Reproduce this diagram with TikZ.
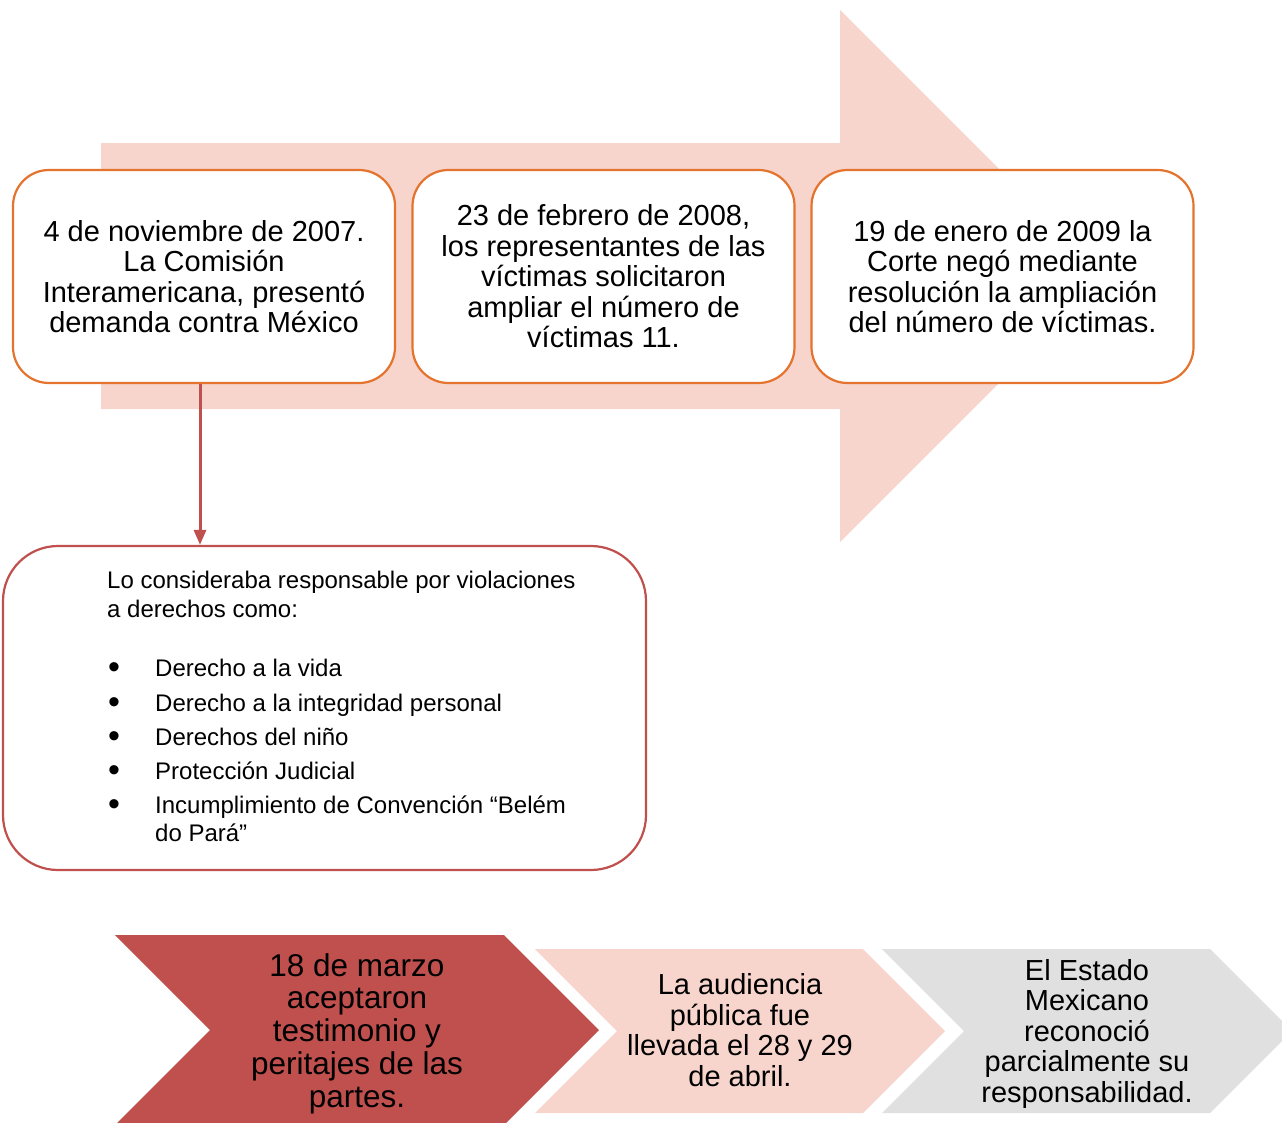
\documentclass[tikz,border=0pt]{standalone}
\usepackage{fontspec}
\setmainfont{Liberation Sans}
\usetikzlibrary{arrows.meta}
\definecolor{pinkbg}{HTML}{F7D5CC}
\definecolor{darkred}{HTML}{C0504D}
\definecolor{orangeb}{HTML}{E4732D}
\definecolor{greybg}{HTML}{E0E0E0}
\begin{document}
\begin{tikzpicture}[x=1pt,y=-1pt,
  eventbox/.style={draw=orangeb, line width=2.2pt, fill=white, rounded corners=36pt,
    minimum width=382pt, minimum height=213pt, inner sep=0pt, align=center,
    font=\fontsize{29}{30.5}\selectfont},
  rightsbox/.style={draw=darkred, line width=2.2pt, fill=white, rounded corners=55pt,
    minimum width=643pt, minimum height=324pt, inner sep=0pt},
  listtext/.style={anchor=base west, inner sep=0pt, font=\fontsize{24}{28}\selectfont},
  bullettext/.style={anchor=base, inner sep=0pt, font=\fontsize{34}{36}\selectfont},
  chevtext/.style={align=center, inner sep=0pt, font=\fontsize{29}{30.5}\selectfont},
  bigchevtext/.style={align=center, inner sep=0pt, font=\fontsize{31.5}{32.7}\selectfont},
  link/.style={draw=darkred, line width=3pt, -{Triangle[length=15pt,width=12pt]}}
]
\useasboundingbox (0,0) rectangle (1282,1122);
\clip (0,0) rectangle (1282,1122);

% big background arrow
\fill[pinkbg] (101,143) -- (840,143) -- (840,10) -- (1106,276) -- (840,542)
  -- (840,409) -- (101,409) -- cycle;

% event boxes
\node[eventbox] (b1) at (204,276.5) {4 de noviembre de 2007.\\La Comisión\\Interamericana, presentó\\demanda contra México};
\node[eventbox] (b2) at (603.5,276.5) {23 de febrero de 2008,\\los representantes de las\\víctimas solicitaron\\ampliar el número de\\víctimas 11.};
\node[eventbox] (b3) at (1002.5,276.5) {19 de enero de 2009 la\\Corte negó mediante\\resolución la ampliación\\del número de víctimas.};

% rights box
\node[rightsbox] (rights) at (324.5,708) {};
\coordinate (arrowstart) at ([xshift=-4pt]b1.south);
\draw[link] (arrowstart) -- (arrowstart |- rights.north);

\node[listtext] (l1) at (107,588) {Lo consideraba responsable por violaciones};
\node[listtext] (l2) at (107,617) {a derechos como:};
\node[bullettext] (d1) at (114,678.5) {•};
\node[listtext] (t1) at (155,676) {Derecho a la vida};
\node[bullettext] (d2) at (114,713.5) {•};
\node[listtext] (t2) at (155,711) {Derecho a la integridad personal};
\node[bullettext] (d3) at (114,747.5) {•};
\node[listtext] (t3) at (155,745) {Derechos del niño};
\node[bullettext] (d4) at (114,781.5) {•};
\node[listtext] (t4) at (155,779) {Protección Judicial};
\node[bullettext] (d5) at (114,815.5) {•};
\node[listtext] (t5) at (155,813) {Incumplimiento de Convención “Belém};
\node[listtext] (t6) at (155,841) {do Pará”};

% chevrons
\fill[darkred] (115,935) -- (504,935) -- (599,1030) -- (504,1125) -- (115,1125) -- (210,1030) -- cycle;
\fill[pinkbg] (535,949) -- (863,949) -- (945,1031) -- (863,1113) -- (535,1113) -- (617,1031) -- cycle;
\fill[greybg] (882,949) -- (1210,949) -- (1292,1031) -- (1210,1113) -- (882,1113) -- (964,1031) -- cycle;

\node[bigchevtext] (c1) at (357,1033.5) {18 de marzo\\aceptaron\\testimonio y\\peritajes de las\\partes.};
\node[chevtext] (c2) at (740,1030) {La audiencia\\pública fue\\llevada el 28 y 29\\de abril.};
\node[chevtext] (c3) at (1087,1033.5) {El Estado\\Mexicano\\reconoció\\parcialmente su\\responsabilidad.};
\end{tikzpicture}
\end{document}
